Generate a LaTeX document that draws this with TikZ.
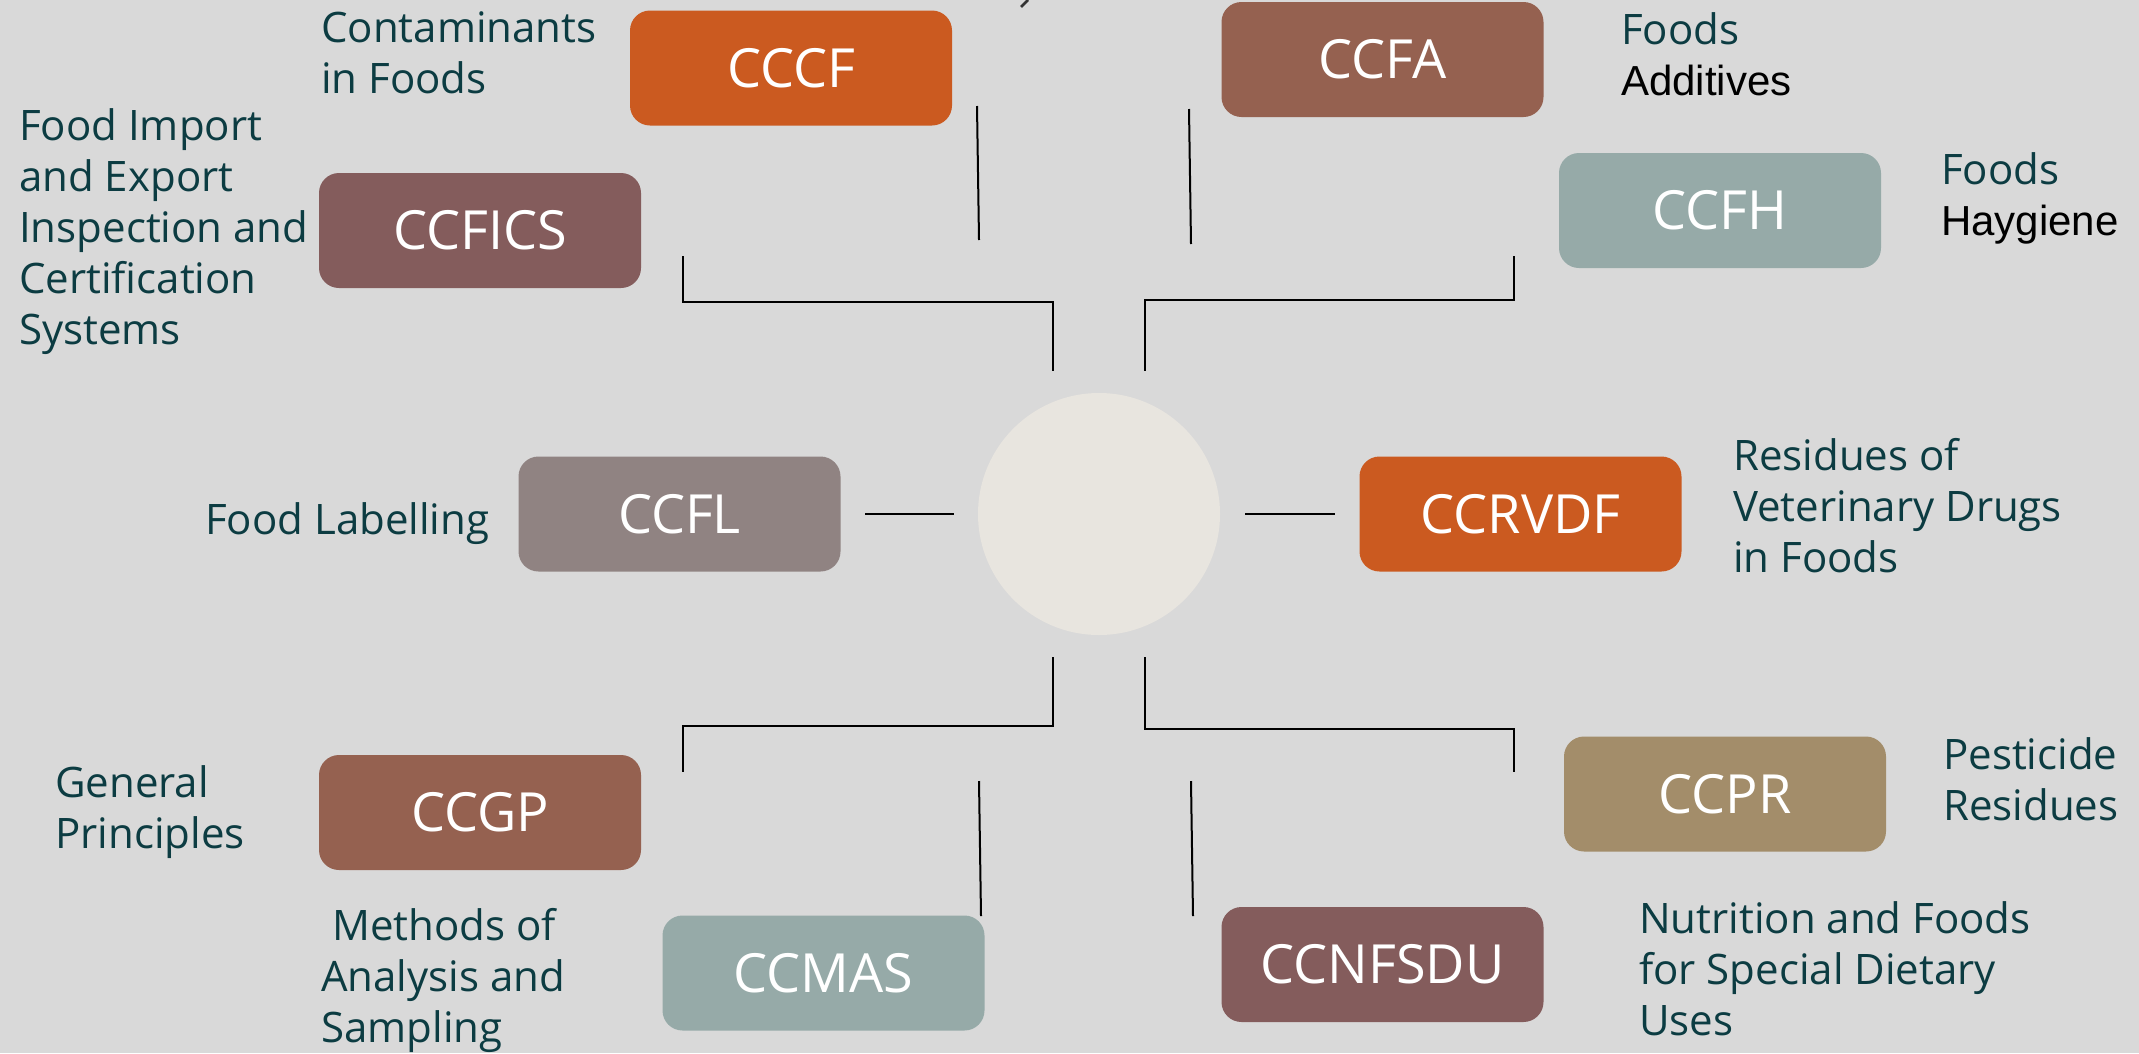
\documentclass[tikz,border=0pt]{standalone}
\usepackage{fontspec}
\setmainfont{Open Sans}
\newfontfamily\robofont{Liberation Sans}
\definecolor{bg}{HTML}{D9D9D9}
\definecolor{circ}{HTML}{E8E5DF}
\definecolor{txt}{HTML}{0C3C42}
\definecolor{orng}{HTML}{CB5A20}
\definecolor{brwn}{HTML}{956150}
\definecolor{mauv}{HTML}{845C5C}
\definecolor{tealg}{HTML}{96AAA8}
\definecolor{greyb}{HTML}{908382}
\definecolor{khak}{HTML}{A38D6A}
\begin{document}
\begin{tikzpicture}[x=1pt,y=-1pt,
  box/.style={rounded corners=20pt, minimum width=322pt, minimum height=115pt, inner sep=0pt, text=white, font=\fontsize{54}{60}\selectfont},
  desc/.style={anchor=base west, align=left, inner sep=0pt, text=txt, font=\fontsize{42}{51}\selectfont},
  conn/.style={line width=2pt, black}]
\fill[bg] (0,0) rectangle (2139,1053);
\useasboundingbox (0,0) rectangle (2139,1053);

% centre circle
\node[circle, fill=circ, minimum size=242pt, inner sep=0pt] (hub) at (1099,514) {};

% boxes
\node[box, fill=orng] (cccf) at (791,68) {CCCF};
\node[box, fill=brwn] (ccfa) at (1382.5,59.5) {CCFA};
\node[box, fill=mauv] (ccfics) at (480,230.5) {CCFICS};
\node[box, fill=tealg] (ccfh) at (1720,210.5) {CCFH};
\node[box, fill=greyb] (ccfl) at (679.5,514) {CCFL};
\node[box, fill=orng] (ccrvdf) at (1520.5,514) {CCRVDF};
\node[box, fill=brwn] (ccgp) at (480,812.5) {CCGP};
\node[box, fill=tealg] (ccmas) at (823.5,973) {CCMAS};
\node[box, fill=khak] (ccpr) at (1725,794) {CCPR};
\node[box, fill=mauv] (ccnfsdu) at (1382.5,964.5) {CCNFSDU};

% descriptions (anchored at the baseline of the last line)
\node[desc] (dcccf) at (321,93) {Contaminants\\in Foods};
\node[desc] (dccfics) at (19,344) {Food Import\\and Export\\Inspection and\\Certification\\Systems};
\node[desc] (dccfl) at (205,534) {Food Labelling};
\node[desc] (dccfa) at (1621,95) {Foods\\{\robofont\color{black}Additives}};
\node[desc] (dccfh) at (1941,235) {Foods\\{\robofont\color{black}Haygiene}};
\node[desc] (dccrvdf) at (1733,572) {Residues of\\Veterinary Drugs\\in Foods};
\node[desc] (dccgp) at (55,848) {General\\Principles};
\node[desc] (dccmas) at (321,1042) {\hspace*{11pt}Methods of\\Analysis and\\Sampling};
\node[desc] (dccpr) at (1943,820) {Pesticide\\Residues};
\node[desc] (dccnfsdu) at (1639,1035) {Nutrition and Foods\\for Special Dietary\\Uses};

% connector end points
\coordinate (l1) at (865,514); \coordinate (l2) at (954,514);
\coordinate (r1) at (1245,514); \coordinate (r2) at (1335,514);
\coordinate (a1) at (977,106); \coordinate (a2) at (979,240);
\coordinate (b1) at (1189,109); \coordinate (b2) at (1191,244);
\coordinate (c1) at (979,781); \coordinate (c2) at (981,916);
\coordinate (d1) at (1191,781); \coordinate (d2) at (1193,916);
\coordinate (tl1) at (683,256); \coordinate (tl2) at (1053,371);
\coordinate (tr1) at (1514,256); \coordinate (tr2) at (1145,371);
\coordinate (bl1) at (1053,657); \coordinate (bl2) at (683,772);
\coordinate (br1) at (1145,657); \coordinate (br2) at (1514,772);

\draw[conn] (l1) -- (l2);
\draw[conn] (r1) -- (r2);
\draw[conn] (a1) -- (a2);
\draw[conn] (b1) -- (b2);
\draw[conn] (c1) -- (c2);
\draw[conn] (d1) -- (d2);
\draw[conn] (tl1) |- (1053,302) -- (tl2);
\draw[conn] (tr1) |- (1145,300) -- (tr2);
\draw[conn] (bl1) |- (683,726) -- (bl2);
\draw[conn] (br1) |- (1514,729) -- (br2);

% small cropped mark at the top edge
\draw[line width=2.5pt, color=black!80] (1028,0) -- (1021,7);
\end{tikzpicture}
\end{document}
